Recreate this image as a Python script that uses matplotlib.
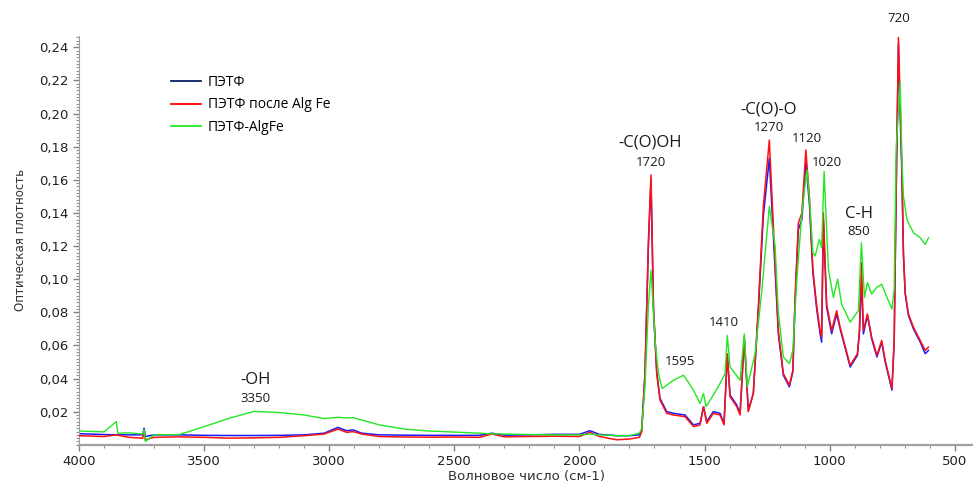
import matplotlib
matplotlib.use("Agg")
import matplotlib.pyplot as plt
from matplotlib.lines import Line2D
from matplotlib.ticker import FixedLocator, MultipleLocator, FuncFormatter

# ---------------- data ----------------
series_labels = ["ПЭТФ", "ПЭТФ после Alg Fe", "ПЭТФ-AlgFe"]

pet_wn = [4000, 3900, 3851, 3800, 3745, 3740, 3735, 3700, 3600, 3500, 3400, 3300,
          3200, 3100, 3020, 2965, 2930, 2905, 2870, 2800, 2700, 2600, 2500, 2400,
          2350, 2300, 2200, 2100, 2000, 1958, 1920, 1850, 1800, 1760, 1751, 1738,
          1724, 1714, 1704, 1691, 1678, 1651, 1624, 1578, 1544, 1518, 1504, 1491,
          1465, 1438, 1422, 1409, 1398, 1371, 1358, 1341, 1325, 1305, 1285, 1265,
          1241, 1218, 1205, 1185, 1161, 1147, 1138, 1125, 1111, 1095, 1081, 1067,
          1051, 1038, 1032, 1025, 1012, 992, 972, 958, 918, 889, 881, 873, 865,
          849, 832, 811, 792, 778, 751, 742, 734, 725, 718, 711, 705, 698, 685,
          665, 638, 618, 605]
pet_abs = [0.0067, 0.0062, 0.0060, 0.0060, 0.0060, 0.0100, 0.0050, 0.0060, 0.0060,
           0.0057, 0.0056, 0.0056, 0.0057, 0.0060, 0.0070, 0.0105, 0.0085, 0.0090,
           0.0070, 0.0060, 0.0058, 0.0057, 0.0057, 0.0057, 0.0070, 0.0058, 0.0060,
           0.0063, 0.0063, 0.0085, 0.0063, 0.0055, 0.0055, 0.0060, 0.0090, 0.043,
           0.122, 0.160, 0.082, 0.044, 0.028, 0.020, 0.019, 0.018, 0.012, 0.013,
           0.023, 0.014, 0.020, 0.019, 0.013, 0.054, 0.030, 0.024, 0.019, 0.064,
           0.021, 0.031, 0.081, 0.138, 0.173, 0.106, 0.067, 0.042, 0.035, 0.044,
           0.087, 0.130, 0.136, 0.170, 0.146, 0.104, 0.081, 0.067, 0.062, 0.135,
           0.083, 0.067, 0.079, 0.070, 0.047, 0.054, 0.067, 0.100, 0.067, 0.078,
           0.064, 0.053, 0.062, 0.050, 0.033, 0.062, 0.152, 0.242, 0.200, 0.162,
           0.114, 0.091, 0.078, 0.070, 0.062, 0.055, 0.057]

after_wn = pet_wn
after_abs = [0.0055, 0.0050, 0.0060, 0.0045, 0.0040, 0.0090, 0.0030, 0.0045, 0.0048,
             0.0045, 0.0040, 0.0042, 0.0045, 0.0055, 0.0065, 0.0095, 0.0075, 0.0080,
             0.0065, 0.0050, 0.0047, 0.0046, 0.0047, 0.0045, 0.0065, 0.0048, 0.0050,
             0.0052, 0.0050, 0.0075, 0.0050, 0.0030, 0.0035, 0.0045, 0.0080, 0.043,
             0.124, 0.163, 0.083, 0.043, 0.027, 0.019, 0.018, 0.017, 0.011, 0.012,
             0.023, 0.013, 0.019, 0.018, 0.012, 0.055, 0.029, 0.023, 0.018, 0.065,
             0.020, 0.031, 0.083, 0.144, 0.184, 0.110, 0.069, 0.043, 0.036, 0.045,
             0.089, 0.134, 0.140, 0.178, 0.150, 0.106, 0.083, 0.069, 0.065, 0.140,
             0.085, 0.069, 0.081, 0.071, 0.048, 0.055, 0.069, 0.110, 0.069, 0.079,
             0.065, 0.054, 0.063, 0.051, 0.034, 0.063, 0.156, 0.246, 0.206, 0.166,
             0.116, 0.092, 0.079, 0.071, 0.063, 0.057, 0.059]

algfe_wn = [4000, 3900, 3851, 3845, 3800, 3745, 3740, 3735, 3700, 3600, 3560, 3500,
            3400, 3300, 3200, 3100, 3020, 2965, 2930, 2905, 2870, 2800, 2700, 2600,
            2500, 2400, 2350, 2300, 2200, 2100, 2000, 1958, 1920, 1850, 1800, 1760,
            1751, 1738, 1724, 1714, 1704, 1698, 1684, 1670, 1651, 1624, 1584, 1570,
            1544, 1518, 1504, 1494, 1465, 1438, 1418, 1409, 1398, 1358, 1341, 1329,
            1298, 1271, 1241, 1218, 1205, 1185, 1161, 1147, 1131, 1111, 1091, 1081,
            1067, 1058, 1041, 1032, 1022, 1005, 985, 968, 952, 918, 885, 873, 861,
            849, 832, 812, 792, 771, 751, 742, 734, 725, 718, 711, 705, 691, 665,
            638, 618, 605]
algfe_abs = [0.0083, 0.0078, 0.0140, 0.0070, 0.0072, 0.0065, 0.0090, 0.0020, 0.0060,
             0.0062, 0.0080, 0.0110, 0.0160, 0.0202, 0.0195, 0.0180, 0.0158, 0.0166,
             0.0162, 0.0164, 0.0150, 0.0120, 0.0095, 0.0083, 0.0077, 0.0070, 0.0066,
             0.0065, 0.0062, 0.0060, 0.0060, 0.0065, 0.0060, 0.0055, 0.0055, 0.0070,
             0.0100, 0.035, 0.085, 0.1055, 0.080, 0.063, 0.043, 0.034, 0.036, 0.039,
             0.042, 0.039, 0.033, 0.025, 0.031, 0.023, 0.030, 0.037, 0.043, 0.066,
             0.047, 0.039, 0.067, 0.035, 0.055, 0.093, 0.144, 0.120, 0.080, 0.053,
             0.049, 0.057, 0.100, 0.140, 0.166, 0.150, 0.116, 0.114, 0.124, 0.119,
             0.165, 0.106, 0.089, 0.100, 0.085, 0.074, 0.081, 0.122, 0.089, 0.098,
             0.091, 0.095, 0.097, 0.089, 0.082, 0.094, 0.180, 0.200, 0.219, 0.172,
             0.150, 0.136, 0.128, 0.125, 0.121, 0.125]

y_ticks = [0.02, 0.04, 0.06, 0.08, 0.10, 0.12, 0.14, 0.16, 0.18, 0.20, 0.22, 0.24]
x_ticks = [4000, 3500, 3000, 2500, 2000, 1500, 1000, 500]

# ---------------- figure ----------------
fig = plt.figure(figsize=(9.73, 4.86), dpi=100)
ax = fig.add_axes([0.0812, 0.0848, 0.9188, 0.8416])

c_blue, c_red, c_green = "#1a1aff", "#ff1010", "#22e822"
ax.plot(pet_wn, pet_abs, color=c_blue, lw=1.1, zorder=2)
ax.plot(after_wn, after_abs, color=c_red, lw=1.1, zorder=3)
ax.plot(algfe_wn, algfe_abs, color=c_green, lw=1.0, zorder=4)

ax.set_xlim(4000, 427)
ax.set_ylim(0, 0.247)

for s in ("top", "right"):
    ax.spines[s].set_visible(False)
ax.spines["left"].set_color("#a0a0a0")
ax.spines["bottom"].set_color("#a0a0a0")
ax.spines["bottom"].set_linewidth(1.6)

ax.yaxis.set_major_locator(FixedLocator(y_ticks))
ax.yaxis.set_minor_locator(MultipleLocator(0.002))
ax.xaxis.set_major_locator(FixedLocator(x_ticks))
ax.xaxis.set_minor_locator(MultipleLocator(100))
ax.yaxis.set_major_formatter(FuncFormatter(lambda v, p: f"{v:.2f}".replace(".", ",")))
ax.xaxis.set_major_formatter(FuncFormatter(lambda v, p: f"{int(v)}"))
ax.tick_params(axis="both", which="major", direction="out", length=4, width=1,
               color="#808080", labelsize=9.5, labelcolor="#202020")
ax.tick_params(axis="both", which="minor", direction="out", length=2, width=0.8,
               color="#909090")
ax.tick_params(axis="x", which="major", pad=3)

ax.set_xlabel("Волновое число (см-1)", fontsize=9.5, color="#303030", labelpad=2)
ax.set_ylabel("Оптическая плотность", fontsize=8.5, color="#303030", labelpad=9)

handles = [Line2D([], [], color="#0a2064", lw=1.3),
           Line2D([], [], color="#ff0000", lw=1.3),
           Line2D([], [], color="#22e822", lw=1.3)]
ax.legend(handles, series_labels, loc="upper left", bbox_to_anchor=(0.095, 0.922),
          frameon=False, prop={"family": "Open Sans", "size": 10},
          handlelength=2.2, handletextpad=0.45, labelspacing=0.56, borderpad=0)

ann_font = {"family": "Open Sans", "color": "#1a1a1a"}
def lab(txt, x, y, size):
    ax.text(x, y, txt, ha="center", va="center", fontsize=size, clip_on=False, **ann_font)

lab("-OH", 3293, 0.0391, 12)
lab("3350", 3293, 0.0277, 9.5)
lab("-C(O)OH", 1719, 0.1824, 12)
lab("1720", 1716, 0.1706, 9.5)
lab("-C(O)-O", 1242, 0.2026, 12)
lab("1270", 1241, 0.1915, 9.5)
lab("1120", 1091, 0.1847, 9.5)
lab("1020", 1011, 0.1704, 9.5)
lab("C-H", 884, 0.1394, 12)
lab("850", 884, 0.1287, 9.5)
lab("1410", 1422, 0.0740, 9.5)
lab("1595", 1598, 0.0502, 9.5)
lab("720", 725, 0.2576, 9.5)

fig.savefig("out.png", dpi=100)
